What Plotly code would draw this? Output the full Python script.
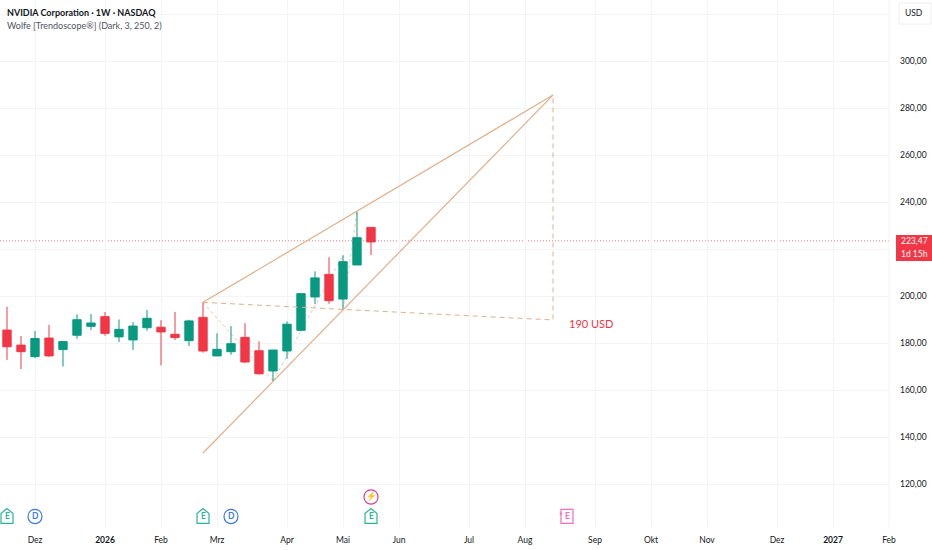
import pandas as pd
import plotly.graph_objects as go

# weekly candles, first one is the week of 2025-11-17
week_start = pd.date_range("2025-11-17", periods=27, freq="7D")
opens = [185.5, 179.1, 174.2, 182.1, 177.2, 183.3, 187.1, 191.2, 182.6, 181.3, 186.5, 186.7, 183.7,
         181.0, 190.9, 174.5, 176.3, 182.4, 176.7, 168.1, 176.6, 185.4, 199.6, 209.2, 198.7, 213.2, 229.2]
highs = [195.4, 183.0, 185.1, 187.7, 180.9, 192.2, 192.3, 193.2, 190.0, 188.9, 194.0, 189.7, 193.2,
         189.9, 197.3, 184.1, 187.2, 188.4, 180.7, 177.0, 189.2, 201.1, 210.5, 216.5, 217.3, 235.9, 229.2]
lows = [172.8, 168.9, 173.5, 174.2, 170.0, 181.8, 185.5, 183.1, 180.4, 177.0, 185.2, 170.5, 181.3,
        178.7, 175.9, 174.5, 175.0, 171.6, 166.5, 163.8, 173.3, 185.2, 196.6, 196.7, 194.0, 213.2, 217.4]
closes = [178.4, 176.3, 181.9, 174.5, 180.6, 189.9, 188.5, 184.1, 185.8, 187.2, 190.5, 184.7, 182.3,
          189.4, 176.6, 177.3, 179.7, 171.9, 166.9, 177.0, 188.0, 201.0, 207.7, 198.0, 214.6, 224.8, 223.0]

last_price = 223.47

# wolfe wave drawing
upper_x = ["2026-02-23", "2026-08-17"]
upper_y = [197.3, 285.5]
lower_x = ["2026-02-23", "2026-08-17"]
lower_y = [133.2, 285.5]
target_x = ["2026-02-23", "2026-08-17", "2026-08-17"]
target_y = [197.3, 189.8, 285.5]
zigzag_x = ["2026-02-23", "2026-03-30", "2026-05-04", "2026-05-04", "2026-05-11"]
zigzag_y = [197.3, 163.8, 217.3, 194.0, 235.9]

x_ticks = ["2025-12-01", "2026-01-05", "2026-02-02", "2026-03-02", "2026-04-06", "2026-05-04", "2026-06-01",
           "2026-07-06", "2026-08-03", "2026-09-07", "2026-10-05", "2026-11-02", "2026-12-07", "2027-01-04",
           "2027-02-01"]
x_labels = ["Dez", "<b>2026</b>", "Feb", "Mrz", "Apr", "Mai", "Jun", "Jul", "Aug", "Sep", "Okt", "Nov", "Dez",
            "<b>2027</b>", "Feb"]
y_ticks = [120, 140, 160, 180, 200, 220, 240, 260, 280, 300, 320]
y_labels = ["120,00", "140,00", "160,00", "180,00", "200,00", "", "240,00", "260,00", "280,00", "300,00", ""]

earnings_dates = ["2025-11-17", "2026-02-23", "2026-05-18"]
dividend_dates = ["2025-12-01", "2026-03-09"]
split_date = "2026-05-18"
next_earnings = "2026-08-24"

RED = "#f23645"
GREEN = "#089981"
LINE = "#e0b08c"
GRID = "#f3f4f6"
TEXT = "#131722"
FONT = "Lato"
ICON_Y = 106.2

fig = go.Figure()

fig.add_trace(go.Candlestick(
    x=week_start, open=opens, high=highs, low=lows, close=closes,
    increasing=dict(line=dict(color=GREEN, width=1), fillcolor=GREEN),
    decreasing=dict(line=dict(color=RED, width=1), fillcolor=RED),
    whiskerwidth=0,
))

fig.add_trace(go.Scatter(x=upper_x, y=upper_y, mode="lines", line=dict(color=LINE, width=1.2)))
fig.add_trace(go.Scatter(x=lower_x, y=lower_y, mode="lines", line=dict(color=LINE, width=1.2)))
fig.add_trace(go.Scatter(x=target_x, y=target_y, mode="lines", line=dict(color=LINE, width=1, dash="5px,4px")))

shapes = [
    # right axis border
    dict(type="line", xref="paper", yref="paper", x0=1, x1=1, y0=0, y1=1, line=dict(color=GRID, width=1)),
    # USD box
    dict(type="rect", xref="paper", yref="paper", x0=899 / 889, x1=931 / 889, y0=1 - 3 / 527, y1=1 - 24 / 527,
         line=dict(color="#eeeeee", width=1), fillcolor="white", layer="above"),
    # last price label
    dict(type="rect", xref="paper", yref="paper", x0=896 / 889, x1=932 / 889, y0=1 - 235 / 527, y1=1 - 261 / 527,
         line=dict(width=0), fillcolor=RED, layer="above"),
    # last price line, behind the candles
    dict(type="line", xref="paper", yref="y", x0=0, x1=1, y0=last_price, y1=last_price, layer="below",
         line=dict(color=RED, width=1, dash="1px,2px"), opacity=0.7),
]

# zigzag also goes behind the candles
for i in range(len(zigzag_x) - 1):
    shapes.append(dict(type="line", xref="x", yref="y", x0=zigzag_x[i], x1=zigzag_x[i + 1],
                       y0=zigzag_y[i], y1=zigzag_y[i + 1], layer="below",
                       line=dict(color=LINE, width=1, dash="dot"), opacity=0.7))

HOUSE = "M -6,-7 L 6,-7 L 6,3 L 0,8 L -6,3 Z"
BOX = "M -6,-7 L 6,-7 L 6,7 L -6,7 Z"


def add_icon(date, y, path, color, fill):
    shapes.append(dict(type="path", xref="x", yref="y", xsizemode="pixel", ysizemode="pixel",
                       xanchor=date, yanchor=y, path=path, line=dict(color=color, width=1.2),
                       fillcolor=fill, layer="above"))


def add_circle(date, y, color):
    shapes.append(dict(type="path", xref="x", yref="y", xsizemode="pixel", ysizemode="pixel",
                       xanchor=date, yanchor=y,
                       path="M -7,0 C -7,-9.5 7,-9.5 7,0 C 7,9.5 -7,9.5 -7,0 Z",
                       line=dict(color=color, width=1.2), fillcolor="white", layer="above"))


annotations = [
    dict(text="NVIDIA Corporation · 1W · NASDAQ", xref="paper", yref="paper", x=6 / 889, y=1 - 12 / 527,
         xanchor="left", yanchor="middle", showarrow=False, xshift=-1,
         font=dict(family=FONT, size=9, color=TEXT, weight=700)),
    dict(text="Wolfe [Trendoscope®] (Dark, 3, 250, 2)", xref="paper", yref="paper", x=6 / 889, y=1 - 26 / 527,
         xanchor="left", yanchor="middle", showarrow=False, xshift=-1,
         font=dict(family=FONT, size=9, color="#50535e")),
    dict(text="190 USD", x="2026-08-24", y=188.3, xanchor="left", yanchor="middle", xshift=0, showarrow=False,
         font=dict(family=FONT, size=11, color=RED)),
    dict(text="USD", xref="paper", yref="paper", x=914 / 889, y=1 - 13 / 527, xanchor="center", yanchor="middle",
         showarrow=False, font=dict(family=FONT, size=8.5, color=TEXT)),
    dict(text="223,47", xref="paper", yref="paper", x=914 / 889, y=1 - 241 / 527, xanchor="center", yanchor="middle",
         showarrow=False, font=dict(family=FONT, size=8.5, color="white")),
    dict(text="1d 15h", xref="paper", yref="paper", x=914 / 889, y=1 - 254 / 527, xanchor="center", yanchor="middle",
         showarrow=False, font=dict(family=FONT, size=8.5, color="white")),
]


def icon_text(date, y, text, color, shift=0):
    annotations.append(dict(text=text, x=date, y=y, showarrow=False, xanchor="center", yanchor="middle", xshift=shift,
                            font=dict(family=FONT, size=8.5, color=color, weight=700)))


for d in earnings_dates:
    add_icon(d, ICON_Y, HOUSE, "#2bb39b", "white")
    icon_text(d, ICON_Y, "E", "#2bb39b")
for d in dividend_dates:
    add_circle(d, ICON_Y, "#3d7ae0")
    icon_text(d, ICON_Y, "D", "#3d7ae0")
add_circle(split_date, 114.5, "#d63f9e")
icon_text(split_date, 114.5, "⚡", "#d63f9e")
add_icon(next_earnings, ICON_Y, BOX, "#f06ec0", "white")
icon_text(next_earnings, ICON_Y, "E", "#f06ec0")
icon_text(next_earnings, ICON_Y, "*", "#f06ec0", shift=-6)

fig.update_layout(
    width=932,
    height=550,
    margin=dict(l=0, r=43, t=0, b=23),
    paper_bgcolor="white",
    plot_bgcolor="white",
    showlegend=False,
    boxgap=0.15,
    separators=",.",
    shapes=shapes,
    annotations=annotations,
    font=dict(family=FONT, size=8.5, color=TEXT),
    xaxis=dict(
        range=["2025-11-13 12:00", "2027-02-01"],
        rangeslider=dict(visible=False),
        tickmode="array", tickvals=x_ticks, ticktext=x_labels, ticklabelstandoff=6,
        showgrid=True, gridcolor=GRID, gridwidth=1, zeroline=False, showline=False, ticks="",
    ),
    yaxis=dict(
        range=[101.7, 325.96],
        side="right",
        tickmode="array", tickvals=y_ticks, ticktext=y_labels, ticklabelstandoff=10,
        showgrid=True, gridcolor=GRID, gridwidth=1, zeroline=False, showline=False, ticks="",
    ),
)

# plotly's page keeps the browser's default body margin
fig.write_html("out.html", config=dict(displayModeBar=False), post_script="document.body.style.margin='0';")
